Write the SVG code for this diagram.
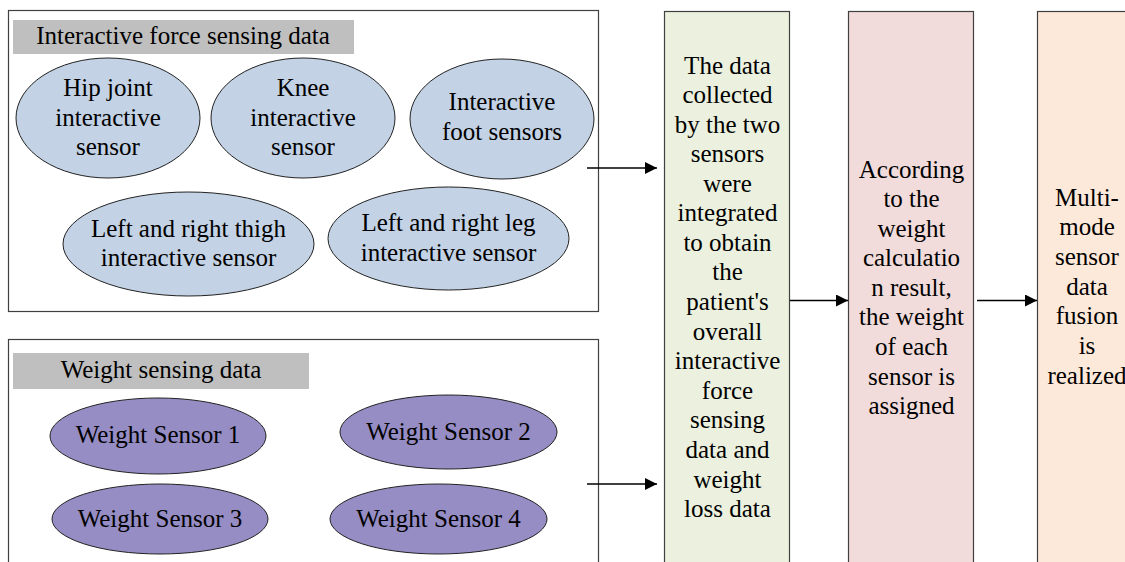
<svg xmlns="http://www.w3.org/2000/svg" width="1125" height="562" viewBox="0 0 1125 562" font-family="'Liberation Serif', serif">
  <style>
    text { font-family: 'Liberation Serif', serif; font-size: 25px; fill: #000; text-anchor: middle; }
    .frame { fill: #fff; stroke: #404040; stroke-width: 1.2; }
    .header { fill: #bfbfbf; stroke: none; }
    .force { fill: #c3d2e4; stroke: #222; stroke-width: 1; }
    .weight { fill: #968dc4; stroke: #222; stroke-width: 1; }
    .stage { stroke: #404040; stroke-width: 1.2; }
    .link { stroke: #000; stroke-width: 1.5; fill: none; marker-end: url(#arrow); }
  </style>
  <defs>
    <marker id="arrow" viewBox="0 0 12 12" refX="12" refY="6" markerWidth="12" markerHeight="12" markerUnits="userSpaceOnUse" orient="auto">
      <path d="M0,0 L12,6 L0,12 Z" fill="#000"/>
    </marker>
  </defs>
  <rect width="1125" height="562" fill="#fff"/>

  <!-- Interactive force sensing group -->
  <g id="force-group">
    <rect class="frame" x="8.5" y="10.5" width="590" height="301"/>
    <rect class="header" x="13" y="20" width="341" height="34"/>
    <text x="183" y="44">Interactive force sensing data</text>
  </g>
  <g id="hip-sensor">
    <ellipse class="force" cx="108" cy="118" rx="92" ry="60"/>
    <text x="108" y="96">Hip joint</text>
    <text x="108" y="126">interactive</text>
    <text x="108" y="155">sensor</text>
  </g>
  <g id="knee-sensor">
    <ellipse class="force" cx="303" cy="118" rx="92" ry="60"/>
    <text x="303" y="96">Knee</text>
    <text x="303" y="126">interactive</text>
    <text x="303" y="155">sensor</text>
  </g>
  <g id="foot-sensor">
    <ellipse class="force" cx="502" cy="119" rx="92" ry="60"/>
    <text x="502" y="110">Interactive</text>
    <text x="502" y="140">foot sensors</text>
  </g>
  <g id="thigh-sensor">
    <ellipse class="force" cx="188.5" cy="244" rx="125.5" ry="52"/>
    <text x="188.5" y="237">Left and right thigh</text>
    <text x="188.5" y="266">interactive sensor</text>
  </g>
  <g id="leg-sensor">
    <ellipse class="force" cx="448.5" cy="238.5" rx="120.5" ry="51.5"/>
    <text x="448.5" y="231">Left and right leg</text>
    <text x="448.5" y="261">interactive sensor</text>
  </g>

  <!-- Weight sensing group -->
  <g id="weight-group">
    <rect class="frame" x="8.5" y="339.5" width="590" height="240"/>
    <rect class="header" x="13" y="353" width="296" height="36"/>
    <text x="161" y="378">Weight sensing data</text>
  </g>
  <g id="weight-sensor-1">
    <ellipse class="weight" cx="158" cy="436" rx="108" ry="38"/>
    <text x="158" y="443">Weight Sensor 1</text>
  </g>
  <g id="weight-sensor-2">
    <ellipse class="weight" cx="448.5" cy="432" rx="108.5" ry="37"/>
    <text x="448.5" y="440">Weight Sensor 2</text>
  </g>
  <g id="weight-sensor-3">
    <ellipse class="weight" cx="160" cy="519" rx="108" ry="35"/>
    <text x="160" y="527">Weight Sensor 3</text>
  </g>
  <g id="weight-sensor-4">
    <ellipse class="weight" cx="438.5" cy="519" rx="108.5" ry="35"/>
    <text x="438.5" y="527">Weight Sensor 4</text>
  </g>

  <!-- Processing stages -->
  <g id="integration">
    <rect class="stage" x="664.5" y="11.5" width="125" height="570" fill="#ebf1de"/>
    <text x="727.5" y="73.5">The data</text>
    <text x="727.5" y="103">collected</text>
    <text x="727.5" y="132.5">by the two</text>
    <text x="727.5" y="162">sensors</text>
    <text x="727.5" y="191.5">were</text>
    <text x="727.5" y="221">integrated</text>
    <text x="727.5" y="250.5">to obtain</text>
    <text x="727.5" y="280">the</text>
    <text x="727.5" y="310">patient's</text>
    <text x="727.5" y="339.5">overall</text>
    <text x="727.5" y="369">interactive</text>
    <text x="727.5" y="398.5">force</text>
    <text x="727.5" y="428">sensing</text>
    <text x="727.5" y="458">data and</text>
    <text x="727.5" y="487.5">weight</text>
    <text x="727.5" y="517">loss data</text>
  </g>
  <g id="weighting">
    <rect class="stage" x="848.5" y="11.5" width="125" height="570" fill="#f2dcdb"/>
    <text x="911.5" y="177.5">According</text>
    <text x="911.5" y="207">to the</text>
    <text x="911.5" y="236.5">weight</text>
    <text x="911.5" y="266">calculatio</text>
    <text x="911.5" y="295.5">n result,</text>
    <text x="911.5" y="325">the weight</text>
    <text x="911.5" y="355">of each</text>
    <text x="911.5" y="384.5">sensor is</text>
    <text x="911.5" y="414">assigned</text>
  </g>
  <g id="fusion">
    <rect class="stage" x="1037.5" y="11.5" width="125" height="570" fill="#fde9d9"/>
    <text x="1087" y="205.5">Multi-</text>
    <text x="1087" y="235">mode</text>
    <text x="1087" y="265">sensor</text>
    <text x="1087" y="294.5">data</text>
    <text x="1087" y="324">fusion</text>
    <text x="1087" y="354">is</text>
    <text x="1087" y="384">realized</text>
  </g>

  <!-- Connectors -->
  <g id="connectors">
    <line class="link" x1="587" y1="168" x2="657" y2="168"/>
    <line class="link" x1="587" y1="484" x2="657" y2="484"/>
    <line class="link" x1="790" y1="300.5" x2="848" y2="300.5"/>
    <line class="link" x1="977" y1="300.5" x2="1037" y2="300.5"/>
  </g>
</svg>
